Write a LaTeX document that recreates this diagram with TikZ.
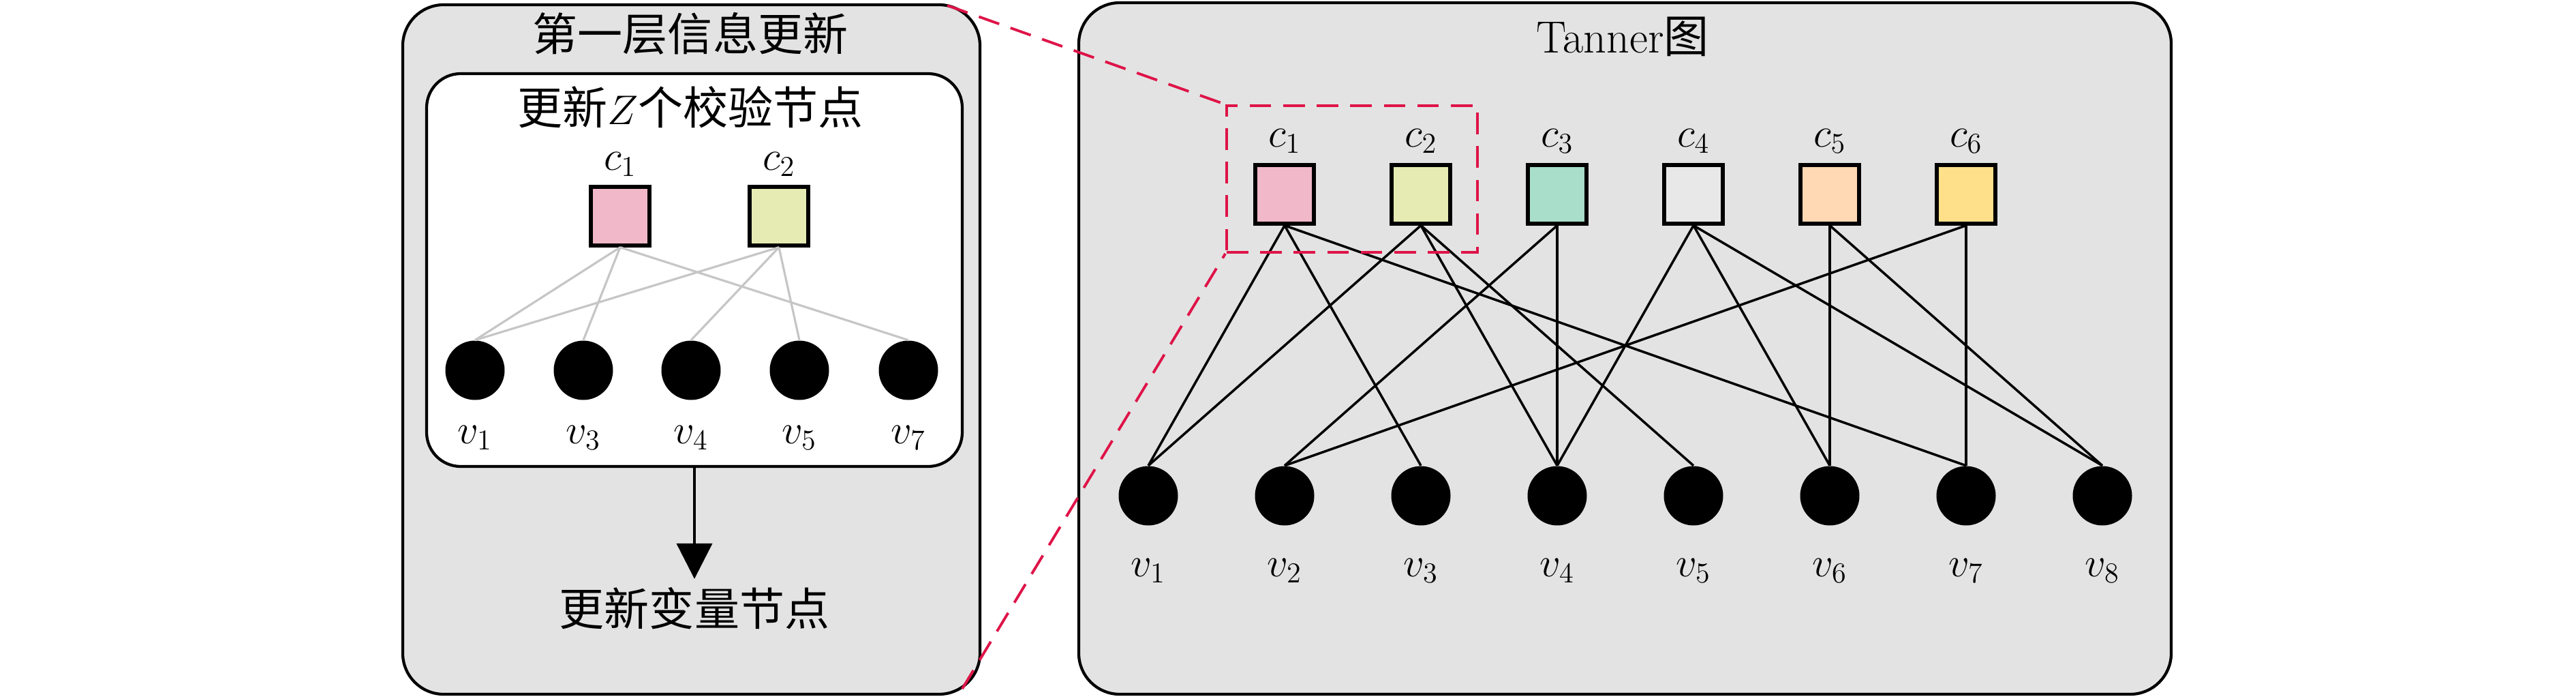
\documentclass[tikz,border=0pt]{standalone}
\usepackage{fontspec}
\newfontfamily\cjk{Noto Sans CJK SC}
\usetikzlibrary{arrows.meta}
\definecolor{bg}{RGB}{227,227,227}
\definecolor{edgegray}{RGB}{198,198,198}
\definecolor{zoomred}{RGB}{222,20,72}
\definecolor{cA}{RGB}{240,184,200}
\definecolor{cB}{RGB}{230,235,180}
\definecolor{cC}{RGB}{168,222,202}
\definecolor{cD}{RGB}{232,232,232}
\definecolor{cE}{RGB}{255,216,180}
\definecolor{cF}{RGB}{255,224,138}
\tikzset{
  panel/.style={draw, line width=1.2pt, fill=bg, rounded corners=0.6cm, inner sep=0pt},
  innerpanel/.style={draw, line width=1.2pt, fill=white, rounded corners=0.5cm, inner sep=0pt},
  checknode/.style={draw, line width=1.5pt, minimum size=0.86cm, inner sep=0pt},
  varnode/.style={circle, fill=black, minimum size=0.87cm, inner sep=0pt},
  tedge/.style={line width=1pt, black},
  gedge/.style={line width=0.9pt, edgegray},
  zoomline/.style={line width=1.1pt, zoomred, dash pattern=on 9pt off 5pt},
}
\begin{document}
\begin{tikzpicture}[font=\fontsize{18.8}{22}\selectfont]
\useasboundingbox (0,0) rectangle (37.8,-10.25);

% ---------- left panel ----------
\node[panel, minimum width=8.47cm, minimum height=10.11cm] (left) at (10.145,-5.125) {};
\node (lefttitle) at (10.13,-0.49) {\cjk 第一层信息更新};
\node[innerpanel, minimum width=7.86cm, minimum height=5.76cm] (inner) at (10.19,-3.96) {};
\node (innertitle) at (10.13,-1.57) {{\cjk 更新}$Z${\cjk 个校验节点}};

\node[checknode, fill=cA, label={[label distance=0pt]above:$c_1$}] (lc1) at (9.10,-3.17) {};
\node[checknode, fill=cB, label={[label distance=0pt]above:$c_2$}] (lc2) at (11.43,-3.17) {};

\node[varnode, label={[label distance=0.25cm]below:$v_1$}] (lv1) at (6.97,-5.43) {};
\node[varnode, label={[label distance=0.25cm]below:$v_3$}] (lv3) at (8.56,-5.43) {};
\node[varnode, label={[label distance=0.25cm]below:$v_4$}] (lv4) at (10.14,-5.43) {};
\node[varnode, label={[label distance=0.25cm]below:$v_5$}] (lv5) at (11.73,-5.43) {};
\node[varnode, label={[label distance=0.25cm]below:$v_7$}] (lv7) at (13.33,-5.43) {};

\foreach \v in {lv1,lv3,lv7} \draw[gedge] (lc1.south) -- (\v.north);
\foreach \v in {lv1,lv4,lv5} \draw[gedge] (lc2.south) -- (\v.north);

\node (varupd) at (10.19,-8.92) {\cjk 更新变量节点};
\draw[line width=1.2pt, -{Triangle[length=0.52cm, width=0.52cm]}] (inner.south) -- (varupd.north);

% ---------- right panel ----------
\node[panel, minimum width=16.03cm, minimum height=10.14cm] (right) at (23.845,-5.11) {};
\node (righttitle) at (23.81,-0.54) {Tanner{\cjk 图}};

\foreach \i/\col in {1/cA,2/cB,3/cC,4/cD,5/cE,6/cF}
  \node[checknode, fill=\col, label={[label distance=0.02cm]above:$c_{\i}$}] (c\i) at ({18.85+2*(\i-1)},-2.85) {};
\foreach \i in {1,...,8}
  \node[varnode, label={[label distance=0.36cm]below:$v_{\i}$}] (v\i) at ({16.85+2*(\i-1)},-7.27) {};

\foreach \c/\v in {c1/v1,c1/v3,c1/v7,c2/v1,c2/v4,c2/v5,c3/v2,c3/v4,c4/v4,c4/v6,c4/v8,c5/v6,c5/v8,c6/v2,c6/v7}
  \draw[tedge] (\c.south) -- (\v.north);

% ---------- zoom marker ----------
\node[zoomline, draw, minimum width=3.68cm, minimum height=2.15cm, inner sep=0pt] (zoombox) at (19.84,-2.625) {};
\coordinate (lefttop) at (13.90,-0.08);
\coordinate (leftbot) at (14.12,-10.10);
\draw[zoomline] (lefttop) -- (zoombox.north west);
\draw[zoomline] (leftbot) -- (zoombox.south west);
\end{tikzpicture}
\end{document}
